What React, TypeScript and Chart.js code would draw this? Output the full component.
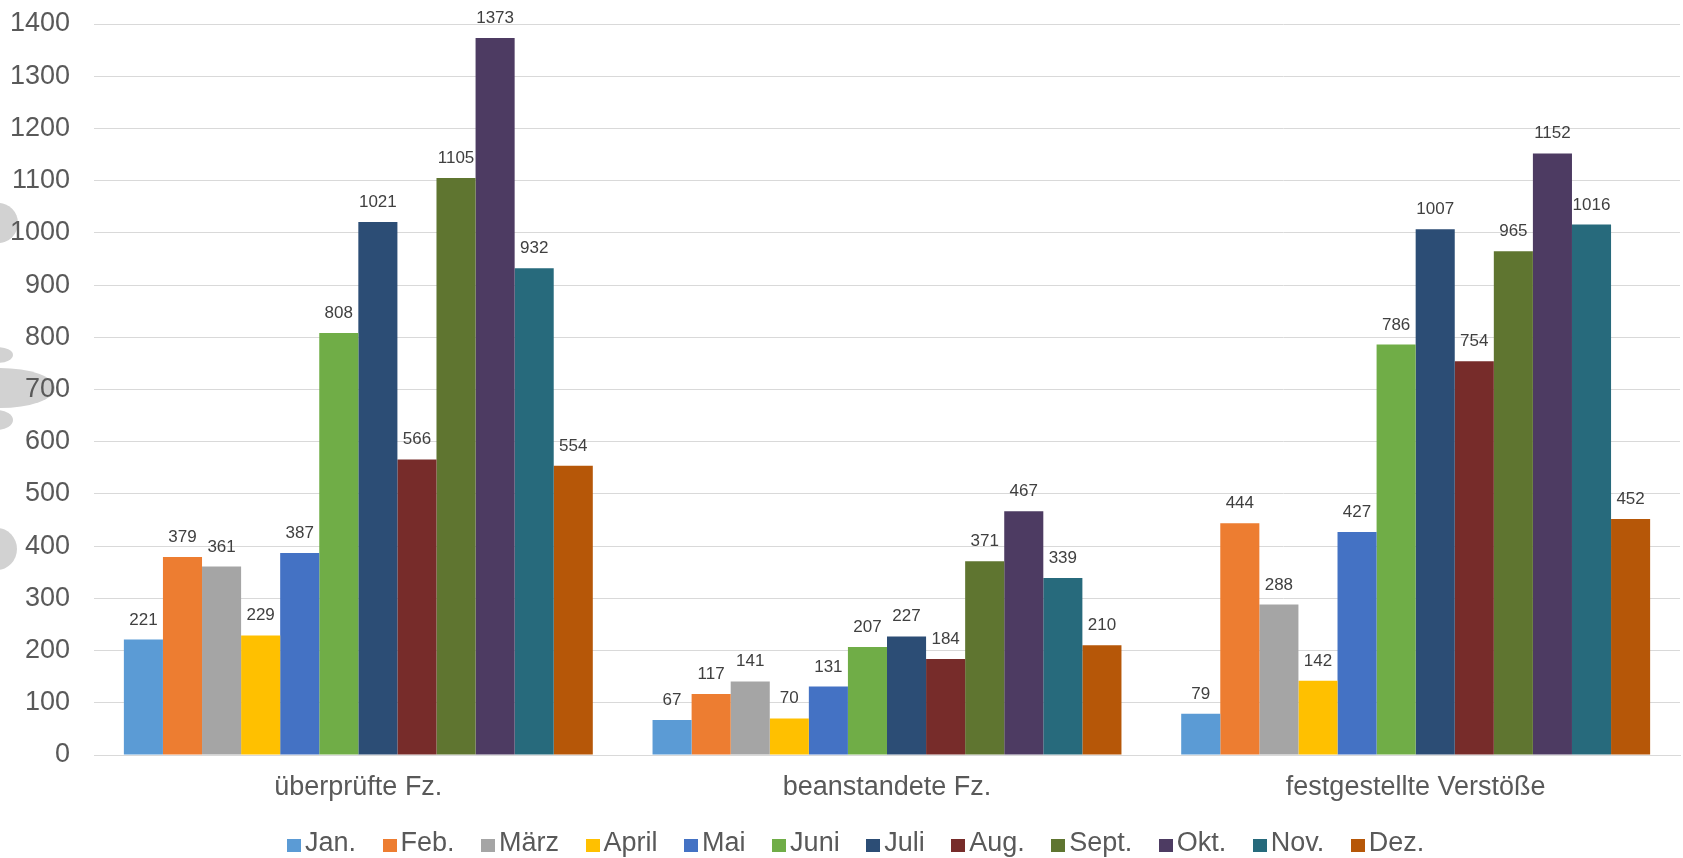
import React, { useEffect, useRef } from "react";
import { Chart, registerables } from "chart.js";

Chart.register(...registerables);

const categories = ["überprüfte Fz.", "beanstandete Fz.", "festgestellte Verstöße"];
const months = ["Jan.", "Feb.", "März", "April", "Mai", "Juni", "Juli", "Aug.", "Sept.", "Okt.", "Nov.", "Dez."];
const colors = [
  "#5B9BD5", "#ED7D31", "#A5A5A5", "#FFC000", "#4472C4", "#70AD47",
  "#2C4D75", "#772C2A", "#5F7530", "#4D3B62", "#276A7C", "#B65708",
];

const jan = [221, 67, 79];
const feb = [379, 117, 444];
const maerz = [361, 141, 288];
const april = [229, 70, 142];
const mai = [387, 131, 427];
const juni = [808, 207, 786];
const juli = [1021, 227, 1007];
const aug = [566, 184, 754];
const sept = [1105, 371, 965];
const okt = [1373, 467, 1152];
const nov = [932, 339, 1016];
const dez = [554, 210, 452];

const seriesValues = [jan, feb, maerz, april, mai, juni, juli, aug, sept, okt, nov, dez];

const yMin = 0;
const yMax = 1400;
const yStep = 100;

const FONT = '"Liberation Sans", Arial, sans-serif';
const TEXT = "#595959";

// decorative grey blobs at the left edge of the reference picture
const blobs = [
  { cx: -2, cy: 223, rx: 20, ry: 20 },
  { cx: -3, cy: 355, rx: 16, ry: 8 },
  { cx: 0, cy: 388, rx: 55, ry: 20 },
  { cx: -3, cy: 420, rx: 16, ry: 10 },
  { cx: -3, cy: 549, rx: 20, ry: 21 },
];

const blobPlugin = {
  id: "blobs",
  beforeDraw(chart: any) {
    const ctx = chart.ctx;
    ctx.save();
    ctx.fillStyle = "#D2D2D2";
    blobs.forEach((b) => {
      ctx.beginPath();
      ctx.ellipse(b.cx, b.cy, b.rx, b.ry, 0, 0, Math.PI * 2);
      ctx.fill();
    });
    ctx.restore();
  },
};

const valueLabelPlugin = {
  id: "valueLabels",
  afterDatasetsDraw(chart: any) {
    const ctx = chart.ctx;
    ctx.save();
    ctx.font = `17px ${FONT}`;
    ctx.fillStyle = "#404040";
    ctx.textAlign = "center";
    ctx.textBaseline = "alphabetic";
    chart.data.datasets.forEach((ds: any, i: number) => {
      const meta = chart.getDatasetMeta(i);
      meta.data.forEach((el: any, j: number) => {
        ctx.fillText(String(ds.data[j]), el.x, el.y - 15);
      });
    });
    ctx.restore();
  },
};

export default function App() {
  const canvasRef = useRef<HTMLCanvasElement | null>(null);

  useEffect(() => {
    if (!canvasRef.current) return;
    const chart = new Chart(canvasRef.current, {
      type: "bar",
      data: {
        labels: categories,
        datasets: months.map((m, i) => ({
          label: m,
          data: seriesValues[i],
          backgroundColor: colors[i],
          borderWidth: 0,
          categoryPercentage: 0.887,
          barPercentage: 1.0,
        })),
      },
      options: {
        responsive: false,
        animation: false,
        layout: { padding: { left: 0, right: 3, top: 24, bottom: 33 } },
        plugins: {
          legend: { display: false },
          tooltip: { enabled: false },
        },
        scales: {
          x: {
            grid: { display: false },
            border: { display: true, color: "#D9D9D9", width: 1 },
            ticks: {
              font: { family: FONT, size: 27 },
              color: TEXT,
              padding: 8,
              maxRotation: 0,
            },
            afterFit: (scale: any) => {
              scale.height = 70;
              scale.paddingLeft = 0;
              scale.paddingRight = 0;
            },
          },
          y: {
            min: yMin,
            max: yMax,
            grid: { color: "#D9D9D9", lineWidth: 1, drawTicks: false },
            border: { display: false },
            ticks: {
              stepSize: yStep,
              font: { family: FONT, size: 27 },
              color: TEXT,
              padding: 24,
              callback: (v: any) => String(v),
            },
            afterFit: (scale: any) => {
              scale.width = 94;
              scale.paddingTop = 0;
              scale.paddingBottom = 0;
            },
          },
        },
      },
      plugins: [blobPlugin, valueLabelPlugin],
    });
    return () => chart.destroy();
  }, []);

  return (
    <div style={{ position: "fixed", left: 0, top: 0, width: 1683, height: 858, background: "#fff" }}>
      <canvas ref={canvasRef} width={1683} height={858} style={{ display: "block" }} />
      <div
        style={{
          position: "absolute",
          left: 287,
          top: 829,
          display: "flex",
          alignItems: "flex-start",
          fontFamily: FONT,
          fontSize: 27,
          lineHeight: "27px",
          color: TEXT,
          whiteSpace: "nowrap",
        }}
      >
        {months.map((m, i) => (
          <div key={m} style={{ display: "flex", alignItems: "flex-start", marginRight: i < months.length - 1 ? 26.5 : 0 }}>
            <span
              style={{
                display: "inline-block",
                width: 14,
                height: 13,
                marginTop: 10,
                marginRight: 4,
                background: colors[i],
              }}
            />
            <span>{m}</span>
          </div>
        ))}
      </div>
    </div>
  );
}
